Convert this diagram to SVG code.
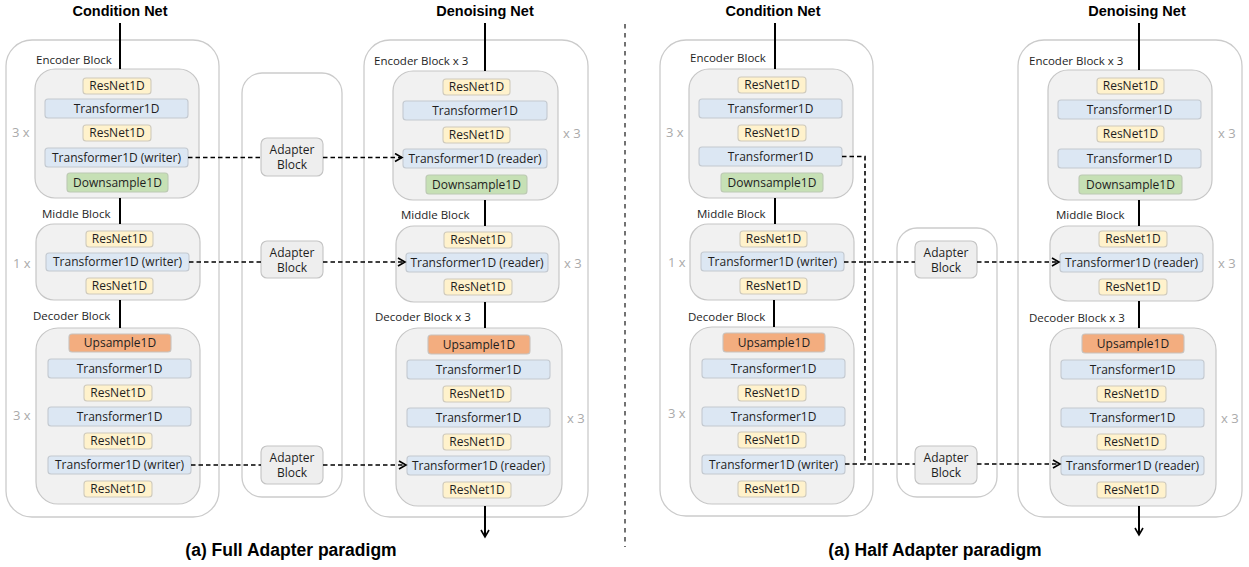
<svg xmlns="http://www.w3.org/2000/svg" width="1249" height="567" viewBox="0 0 1249 567">
<style>
.outer{fill:#fff;stroke:#cbcbcb;stroke-width:1.3}
.inner{fill:#f1f1f1;stroke:#c6c6c6;stroke-width:1.2}
.res{fill:#fff2cc;stroke:#cfcabc;stroke-width:1.1}
.tf{fill:#dce7f3;stroke:#c3c9d0;stroke-width:1.1}
.down{fill:#c6e0b5;stroke:#bcc9b3;stroke-width:1.1}
.up{fill:#f3ad7f;stroke:#c9c2bc;stroke-width:1.1}
.adp{fill:#eeeeee;stroke:#c3c3c3;stroke-width:1.1}
text{font-family:"Open Sans","Noto Sans",sans-serif;font-size:12px;fill:#1e1e1e}
.c{text-anchor:middle}
.lbl{font-size:11.5px}
.rep{fill:#aaaaaa;font-size:13px}
.title{font-family:"Liberation Sans",Arial,sans-serif;font-weight:bold;font-size:14.5px;fill:#000;text-anchor:middle}
.cap{font-family:"Liberation Sans",Arial,sans-serif;font-weight:bold;font-size:17.5px;fill:#000;text-anchor:middle}
.solid{stroke:#000;stroke-width:2;fill:none}
.dash{stroke:#000;stroke-width:1.6;fill:none;stroke-dasharray:4.5 3}
.sep{stroke:#444;stroke-width:1.5;fill:none;stroke-dasharray:4.5 4.5}
</style>
<defs>
<marker id="arr" markerUnits="userSpaceOnUse" markerWidth="10" markerHeight="12" refX="8" refY="5" orient="auto">
<path d="M1,1 L8,5 L1,9" fill="none" stroke="#000" stroke-width="1.6"/>
</marker>
</defs>

<!-- titles and captions -->
<text class="title" x="120" y="16">Condition Net</text>
<text class="title" x="485" y="16">Denoising Net</text>
<text class="title" x="773" y="16">Condition Net</text>
<text class="title" x="1137" y="16">Denoising Net</text>
<text class="cap" x="291" y="556">(a) Full Adapter paradigm</text>
<text class="cap" x="935" y="556">(a) Half Adapter paradigm</text>

<!-- ===== LEFT PANEL: Full Adapter ===== -->
<g id="full-cond-outer"><rect class="outer" x="6" y="40" width="213" height="477" rx="26"/></g>
<g id="full-adapter-outer"><rect class="outer" x="242" y="73" width="100" height="424" rx="20"/></g>
<g id="full-den-outer"><rect class="outer" x="364" y="40" width="224" height="477" rx="26"/></g>

<!-- condition net encoder -->
<g id="full-cond-encoder">
<text class="lbl" x="36" y="64">Encoder Block</text>
<text class="rep" x="12" y="137">3 x</text>
<rect class="inner" x="35" y="69" width="164" height="129" rx="20"/>
</g>
<g id="full-cond-enc-res1"><rect class="res" x="83" y="78" width="68" height="16" rx="3"/><text class="c" x="117" y="90">ResNet1D</text></g>
<g id="full-cond-enc-tf1"><rect class="tf" x="45" y="99" width="143" height="19" rx="3"/><text class="c" x="116.5" y="112.5">Transformer1D</text></g>
<g id="full-cond-enc-res2"><rect class="res" x="83" y="125" width="68" height="16" rx="3"/><text class="c" x="117" y="137">ResNet1D</text></g>
<g id="full-cond-enc-tfw"><rect class="tf" x="45" y="148" width="143" height="19" rx="3"/><text class="c" x="116.5" y="161.5">Transformer1D (writer)</text></g>
<g id="full-cond-enc-down"><rect class="down" x="67" y="173" width="101" height="19" rx="3"/><text class="c" x="117.5" y="186.5">Downsample1D</text></g>

<!-- condition net middle -->
<g id="full-cond-middle">
<text class="lbl" x="42" y="218">Middle Block</text>
<text class="rep" x="13" y="268">1 x</text>
<rect class="inner" x="36" y="224" width="164" height="76" rx="18"/>
</g>
<g id="full-cond-mid-res1"><rect class="res" x="86" y="231" width="67" height="16" rx="3"/><text class="c" x="119.5" y="243">ResNet1D</text></g>
<g id="full-cond-mid-tfw"><rect class="tf" x="46" y="253" width="143" height="18" rx="3"/><text class="c" x="117.5" y="266">Transformer1D (writer)</text></g>
<g id="full-cond-mid-res2"><rect class="res" x="86" y="278" width="67" height="16" rx="3"/><text class="c" x="119.5" y="290">ResNet1D</text></g>

<!-- condition net decoder -->
<g id="full-cond-decoder">
<text class="lbl" x="33" y="320">Decoder Block</text>
<text class="rep" x="13" y="420">3 x</text>
<rect class="inner" x="36" y="328" width="164" height="176" rx="22"/>
</g>
<g id="full-cond-dec-up"><rect class="up" x="69" y="334" width="102" height="18" rx="3"/><text class="c" x="120" y="347">Upsample1D</text></g>
<g id="full-cond-dec-tf1"><rect class="tf" x="48" y="359" width="143" height="19" rx="3"/><text class="c" x="119.5" y="372.5">Transformer1D</text></g>
<g id="full-cond-dec-res1"><rect class="res" x="84" y="385" width="68" height="16" rx="3"/><text class="c" x="118" y="397">ResNet1D</text></g>
<g id="full-cond-dec-tf2"><rect class="tf" x="48" y="407" width="143" height="19" rx="3"/><text class="c" x="119.5" y="420.5">Transformer1D</text></g>
<g id="full-cond-dec-res2"><rect class="res" x="84" y="433" width="68" height="16" rx="3"/><text class="c" x="118" y="445">ResNet1D</text></g>
<g id="full-cond-dec-tfw"><rect class="tf" x="48" y="456" width="143" height="18" rx="3"/><text class="c" x="119.5" y="469">Transformer1D (writer)</text></g>
<g id="full-cond-dec-res3"><rect class="res" x="84" y="481" width="68" height="16" rx="3"/><text class="c" x="118" y="493">ResNet1D</text></g>

<!-- adapter blocks -->
<g id="full-adapter-1"><rect class="adp" x="261" y="138" width="62" height="38" rx="6"/><text class="c" x="292" y="154">Adapter</text><text class="c" x="292" y="169">Block</text></g>
<g id="full-adapter-2"><rect class="adp" x="261" y="241" width="62" height="37" rx="6"/><text class="c" x="292" y="257">Adapter</text><text class="c" x="292" y="272">Block</text></g>
<g id="full-adapter-3"><rect class="adp" x="261" y="446" width="62" height="38" rx="6"/><text class="c" x="292" y="462">Adapter</text><text class="c" x="292" y="477">Block</text></g>

<!-- denoising encoder -->
<g id="full-den-encoder">
<text class="lbl" x="374" y="65">Encoder Block x 3</text>
<text class="rep" x="563" y="138">x 3</text>
<rect class="inner" x="393" y="71" width="165" height="129" rx="20"/>
</g>
<g id="full-den-enc-res1"><rect class="res" x="443" y="79" width="67" height="16" rx="3"/><text class="c" x="476.5" y="91">ResNet1D</text></g>
<g id="full-den-enc-tf1"><rect class="tf" x="403" y="101" width="144" height="19" rx="3"/><text class="c" x="475" y="114.5">Transformer1D</text></g>
<g id="full-den-enc-res2"><rect class="res" x="443" y="127" width="67" height="16" rx="3"/><text class="c" x="476.5" y="139">ResNet1D</text></g>
<g id="full-den-enc-tfr"><rect class="tf" x="403" y="149" width="144" height="19" rx="3"/><text class="c" x="475" y="162.5">Transformer1D (reader)</text></g>
<g id="full-den-enc-down"><rect class="down" x="426" y="175" width="101" height="19" rx="3"/><text class="c" x="476.5" y="188.5">Downsample1D</text></g>

<!-- denoising middle -->
<g id="full-den-middle">
<text class="lbl" x="401" y="219">Middle Block</text>
<text class="rep" x="564" y="268">x 3</text>
<rect class="inner" x="396" y="226" width="163" height="76" rx="18"/>
</g>
<g id="full-den-mid-res1"><rect class="res" x="444" y="232" width="68" height="16" rx="3"/><text class="c" x="478" y="244">ResNet1D</text></g>
<g id="full-den-mid-tfr"><rect class="tf" x="406" y="253" width="142" height="19" rx="3"/><text class="c" x="477" y="266.5">Transformer1D (reader)</text></g>
<g id="full-den-mid-res2"><rect class="res" x="444" y="279" width="68" height="16" rx="3"/><text class="c" x="478" y="291">ResNet1D</text></g>

<!-- denoising decoder -->
<g id="full-den-decoder">
<text class="lbl" x="375" y="321">Decoder Block x 3</text>
<text class="rep" x="567" y="423">x 3</text>
<rect class="inner" x="396" y="328" width="166" height="178" rx="22"/>
</g>
<g id="full-den-dec-up"><rect class="up" x="428" y="335" width="102" height="19" rx="3"/><text class="c" x="479" y="348.5">Upsample1D</text></g>
<g id="full-den-dec-tf1"><rect class="tf" x="407" y="360" width="143" height="19" rx="3"/><text class="c" x="478.5" y="373.5">Transformer1D</text></g>
<g id="full-den-dec-res1"><rect class="res" x="443" y="386" width="68" height="16" rx="3"/><text class="c" x="477" y="398">ResNet1D</text></g>
<g id="full-den-dec-tf2"><rect class="tf" x="407" y="408" width="143" height="19" rx="3"/><text class="c" x="478.5" y="421.5">Transformer1D</text></g>
<g id="full-den-dec-res2"><rect class="res" x="443" y="434" width="68" height="16" rx="3"/><text class="c" x="477" y="446">ResNet1D</text></g>
<g id="full-den-dec-tfr"><rect class="tf" x="407" y="456" width="143" height="19" rx="3"/><text class="c" x="478.5" y="469.5">Transformer1D (reader)</text></g>
<g id="full-den-dec-res3"><rect class="res" x="443" y="482" width="68" height="16" rx="3"/><text class="c" x="477" y="494">ResNet1D</text></g>

<!-- ===== RIGHT PANEL: Half Adapter ===== -->
<g id="half-cond-outer"><rect class="outer" x="660" y="40" width="213" height="476" rx="26"/></g>
<g id="half-adapter-outer"><rect class="outer" x="897" y="228" width="100" height="269" rx="20"/></g>
<g id="half-den-outer"><rect class="outer" x="1018" y="40" width="224" height="477" rx="26"/></g>

<g id="half-cond-encoder">
<text class="lbl" x="690" y="62">Encoder Block</text>
<text class="rep" x="666" y="137">3 x</text>
<rect class="inner" x="689" y="69" width="164" height="129" rx="20"/>
</g>
<g id="half-cond-enc-res1"><rect class="res" x="738" y="77" width="68" height="16" rx="3"/><text class="c" x="772" y="89">ResNet1D</text></g>
<g id="half-cond-enc-tf1"><rect class="tf" x="699" y="99" width="143" height="19" rx="3"/><text class="c" x="770.5" y="112.5">Transformer1D</text></g>
<g id="half-cond-enc-res2"><rect class="res" x="738" y="125" width="68" height="16" rx="3"/><text class="c" x="772" y="137">ResNet1D</text></g>
<g id="half-cond-enc-tf2"><rect class="tf" x="699" y="147" width="143" height="19" rx="3"/><text class="c" x="770.5" y="160.5">Transformer1D</text></g>
<g id="half-cond-enc-down"><rect class="down" x="721" y="173" width="102" height="19" rx="3"/><text class="c" x="772" y="186.5">Downsample1D</text></g>

<g id="half-cond-middle">
<text class="lbl" x="697" y="218">Middle Block</text>
<text class="rep" x="668" y="267">1 x</text>
<rect class="inner" x="690" y="224" width="164" height="76" rx="18"/>
</g>
<g id="half-cond-mid-res1"><rect class="res" x="740" y="231" width="67" height="16" rx="3"/><text class="c" x="773.5" y="243">ResNet1D</text></g>
<g id="half-cond-mid-tfw"><rect class="tf" x="701" y="252" width="143" height="19" rx="3"/><text class="c" x="772.5" y="265.5">Transformer1D (writer)</text></g>
<g id="half-cond-mid-res2"><rect class="res" x="740" y="278" width="67" height="16" rx="3"/><text class="c" x="773.5" y="290">ResNet1D</text></g>

<g id="half-cond-decoder">
<text class="lbl" x="688" y="321">Decoder Block</text>
<text class="rep" x="668" y="418">3 x</text>
<rect class="inner" x="690" y="327" width="164" height="177" rx="22"/>
</g>
<g id="half-cond-dec-up"><rect class="up" x="723" y="333" width="102" height="19" rx="3"/><text class="c" x="774" y="346.5">Upsample1D</text></g>
<g id="half-cond-dec-tf1"><rect class="tf" x="702" y="359" width="143" height="19" rx="3"/><text class="c" x="773.5" y="372.5">Transformer1D</text></g>
<g id="half-cond-dec-res1"><rect class="res" x="738" y="385" width="68" height="16" rx="3"/><text class="c" x="772" y="397">ResNet1D</text></g>
<g id="half-cond-dec-tf2"><rect class="tf" x="702" y="407" width="143" height="19" rx="3"/><text class="c" x="773.5" y="420.5">Transformer1D</text></g>
<g id="half-cond-dec-res2"><rect class="res" x="738" y="432" width="68" height="16" rx="3"/><text class="c" x="772" y="444">ResNet1D</text></g>
<g id="half-cond-dec-tfw"><rect class="tf" x="702" y="455" width="143" height="19" rx="3"/><text class="c" x="773.5" y="468.5">Transformer1D (writer)</text></g>
<g id="half-cond-dec-res3"><rect class="res" x="738" y="481" width="68" height="16" rx="3"/><text class="c" x="772" y="493">ResNet1D</text></g>

<g id="half-adapter-1"><rect class="adp" x="915" y="241" width="62" height="37" rx="6"/><text class="c" x="946" y="257">Adapter</text><text class="c" x="946" y="272">Block</text></g>
<g id="half-adapter-2"><rect class="adp" x="915" y="446" width="62" height="38" rx="6"/><text class="c" x="946" y="462">Adapter</text><text class="c" x="946" y="477">Block</text></g>

<g id="half-den-encoder">
<text class="lbl" x="1029" y="65">Encoder Block x 3</text>
<text class="rep" x="1218" y="138">x 3</text>
<rect class="inner" x="1048" y="70" width="164" height="130" rx="20"/>
</g>
<g id="half-den-enc-res1"><rect class="res" x="1097" y="78" width="67" height="16" rx="3"/><text class="c" x="1130.5" y="90">ResNet1D</text></g>
<g id="half-den-enc-tf1"><rect class="tf" x="1058" y="100" width="143" height="19" rx="3"/><text class="c" x="1129.5" y="113.5">Transformer1D</text></g>
<g id="half-den-enc-res2"><rect class="res" x="1097" y="126" width="67" height="16" rx="3"/><text class="c" x="1130.5" y="138">ResNet1D</text></g>
<g id="half-den-enc-tf2"><rect class="tf" x="1058" y="149" width="143" height="19" rx="3"/><text class="c" x="1129.5" y="162.5">Transformer1D</text></g>
<g id="half-den-enc-down"><rect class="down" x="1079" y="175" width="103" height="19" rx="3"/><text class="c" x="1130.5" y="188.5">Downsample1D</text></g>

<g id="half-den-middle">
<text class="lbl" x="1056" y="219">Middle Block</text>
<text class="rep" x="1218" y="268">x 3</text>
<rect class="inner" x="1050" y="226" width="163" height="75" rx="18"/>
</g>
<g id="half-den-mid-res1"><rect class="res" x="1099" y="231" width="68" height="16" rx="3"/><text class="c" x="1133" y="243">ResNet1D</text></g>
<g id="half-den-mid-tfr"><rect class="tf" x="1060" y="253" width="143" height="19" rx="3"/><text class="c" x="1131.5" y="266.5">Transformer1D (reader)</text></g>
<g id="half-den-mid-res2"><rect class="res" x="1099" y="279" width="68" height="16" rx="3"/><text class="c" x="1133" y="291">ResNet1D</text></g>

<g id="half-den-decoder">
<text class="lbl" x="1029" y="322">Decoder Block x 3</text>
<text class="rep" x="1221" y="423">x 3</text>
<rect class="inner" x="1050" y="328" width="166" height="178" rx="22"/>
</g>
<g id="half-den-dec-up"><rect class="up" x="1082" y="334" width="102" height="19" rx="3"/><text class="c" x="1133" y="347.5">Upsample1D</text></g>
<g id="half-den-dec-tf1"><rect class="tf" x="1061" y="360" width="143" height="19" rx="3"/><text class="c" x="1132.5" y="373.5">Transformer1D</text></g>
<g id="half-den-dec-res1"><rect class="res" x="1097" y="386" width="69" height="16" rx="3"/><text class="c" x="1131.5" y="398">ResNet1D</text></g>
<g id="half-den-dec-tf2"><rect class="tf" x="1061" y="408" width="143" height="19" rx="3"/><text class="c" x="1132.5" y="421.5">Transformer1D</text></g>
<g id="half-den-dec-res2"><rect class="res" x="1097" y="434" width="69" height="16" rx="3"/><text class="c" x="1131.5" y="446">ResNet1D</text></g>
<g id="half-den-dec-tfr"><rect class="tf" x="1061" y="456" width="143" height="19" rx="3"/><text class="c" x="1132.5" y="469.5">Transformer1D (reader)</text></g>
<g id="half-den-dec-res3"><rect class="res" x="1097" y="482" width="69" height="16" rx="3"/><text class="c" x="1131.5" y="494">ResNet1D</text></g>

<!-- ===== CONNECTORS ===== -->
<g id="connectors">
<line class="sep" x1="625" y1="24" x2="625" y2="547"/>
<!-- left solid -->
<path class="solid" d="M120,23 V69 M120,198 V224 M120,300 V328"/>
<path class="solid" d="M485,23 V71 M485,200 V226 M485,302 V328"/>
<path class="solid" d="M485,506 V537" marker-end="url(#arr)"/>
<!-- left dashed -->
<path class="dash" d="M188,157.5 H261"/>
<path class="dash" d="M323,157.5 H402" marker-end="url(#arr)"/>
<path class="dash" d="M189,262 H261"/>
<path class="dash" d="M323,262 H405" marker-end="url(#arr)"/>
<path class="dash" d="M191,465 H261"/>
<path class="dash" d="M323,465 H406" marker-end="url(#arr)"/>
<!-- right solid -->
<path class="solid" d="M775,23 V69 M775,198 V224 M774,300 V327"/>
<path class="solid" d="M1139,23 V70 M1139,200 V226 M1139,301 V328"/>
<path class="solid" d="M1139,506 V535" marker-end="url(#arr)"/>
<!-- right dashed -->
<path class="dash" d="M842,156.5 H865 V464"/>
<path class="dash" d="M844,262 H915"/>
<path class="dash" d="M845,464 H915"/>
<path class="dash" d="M977,262 H1059" marker-end="url(#arr)"/>
<path class="dash" d="M977,464 H1060" marker-end="url(#arr)"/>
</g>
</svg>
